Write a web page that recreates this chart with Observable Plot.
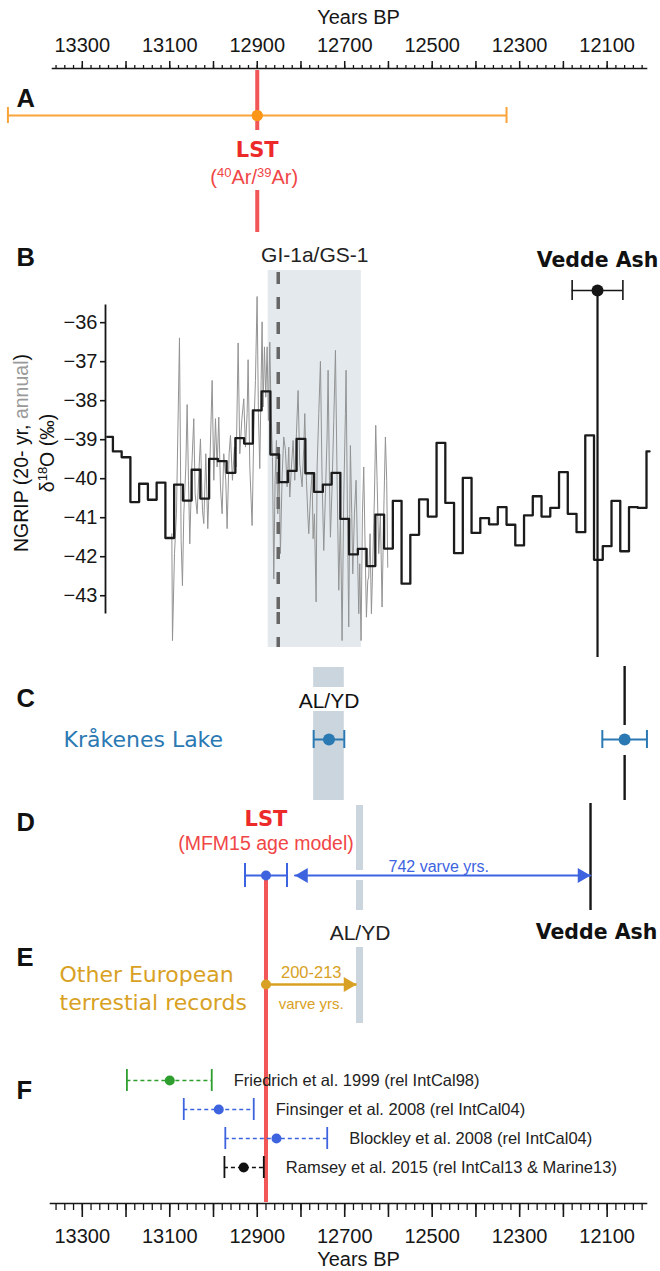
<!DOCTYPE html>
<html><head><meta charset="utf-8">
<script src="https://cdn.jsdelivr.net/npm/d3@7"></script>
<script src="https://cdn.jsdelivr.net/npm/@observablehq/plot@0.6"></script>
<style>
body{margin:0;background:#fff;}
#chart{width:660px;}
#chart svg{display:block;position:relative;overflow:visible;}
</style></head><body><div id="chart"></div>
<script>
// ---------------- data ----------------
const labelTicks = [13300, 13100, 12900, 12700, 12500, 12300, 12100];
const majorTicks = [13300, 13200, 13100, 13000, 12900, 12800, 12700, 12600, 12500, 12400, 12300, 12200, 12100];
const minorTicks = d3.range(12020, 13361, 20);
const axisTitle = "Years BP";

// A: LST 40Ar/39Ar age
const lstArAr = {age: 12900, err: 570};

// B: NGRIP 20-yr mean (step) – bin start years and values
const ngripBinStart = [13243,13230,13210,13190,13170,13150,13130,13110,13090,13070,13050,13030,13010,12990,12970,12950,12930,12910,12890,12870,12850,12830,12810,12790,12770,12750,12730,12710,12690,12670,12650,12630,12610,12590,12570,12550,12530,12510,12490,12470,12450,12430,12410,12390,12370,12350,12330,12310,12290,12270,12250,12230,12210,12190,12170,12150,12130,12110,12090,12070,12050,12030,12010];
const ngripBinValue = [-38.93,-39.30,-39.45,-40.60,-40.13,-40.54,-40.10,-41.52,-40.15,-40.56,-39.77,-40.51,-39.49,-39.55,-39.85,-38.96,-39.10,-38.25,-37.76,-39.38,-40.09,-39.80,-38.98,-39.86,-40.34,-40.15,-39.85,-41.03,-41.94,-41.80,-42.24,-40.92,-41.79,-40.57,-42.69,-41.44,-40.53,-40.97,-39.08,-40.62,-41.91,-39.98,-41.39,-41.01,-41.17,-40.73,-41.18,-41.71,-40.94,-40.45,-40.97,-40.75,-39.83,-40.90,-41.37,-38.89,-42.08,-41.73,-40.57,-41.86,-40.73,-40.75,-39.30];
const ngripEndYear = 12003;

// B: NGRIP annual (grey)
const ngripAnnualYear = [13095.3,13093.8,13089.2,13084.7,13077.8,13074.0,13071.0,13067.9,13063.3,13060.3,13057.2,13054.2,13049.6,13045.1,13042.0,13037.4,13032.9,13029.8,13025.2,13022.2,13017.6,13013.1,13008.5,13003.1,12999.3,12995.5,12991.7,12987.9,12984.1,12980.3,12976.5,12971.9,12968.9,12964.3,12961.2,12956.7,12952.1,12948.3,12943.7,12939.9,12935.3,12930.8,12926.9,12923.1,12920.9,12917.0,12911.7,12907.9,12904.1,12900.3,12897.3,12894.2,12891.1,12888.9,12886.6,12883.5,12880.5,12877.4,12874.4,12871.3,12868.3,12865.2,12862.2,12859.2,12856.1,12853.1,12850.0,12847.0,12843.2,12839.4,12835.5,12831.7,12827.9,12825.6,12821.8,12818.0,12814.2,12810.4,12806.6,12802.8,12797.4,12793.6,12791.3,12787.5,12784.5,12782.2,12778.4,12774.6,12772.3,12769.2,12765.4,12763.1,12759.3,12755.5,12751.7,12747.9,12744.1,12740.3,12738.0,12734.9,12732.7,12728.9,12725.0,12721.2,12717.4,12713.6,12709.8,12706.0,12702.2,12698.4,12696.9,12693.8,12690.8,12688.5,12687.0,12683.9,12681.6,12677.8,12674.0,12671.0,12667.9,12665.6,12662.6,12659.5,12656.5,12653.4,12650.4,12647.3,12645.1,12642.0,12639.0,12635.9,12632.1,12629.1,12626.0,12622.2,12618.4,12614.6,12610.8,12607.0,12604.0,12601.6];
const ngripAnnualValue = [-41.41,-44.15,-41.92,-40.90,-36.39,-41.58,-42.74,-40.90,-39.70,-38.10,-40.04,-41.67,-39.70,-38.46,-40.39,-40.90,-39.70,-38.98,-40.81,-41.15,-39.36,-41.28,-39.70,-37.48,-40.04,-38.46,-39.70,-38.42,-40.21,-40.90,-39.36,-40.04,-41.28,-39.36,-38.89,-40.04,-39.19,-39.70,-36.52,-39.36,-38.50,-37.95,-39.19,-38.33,-36.95,-39.70,-41.20,-38.76,-37.48,-35.33,-38.33,-39.74,-37.48,-35.98,-38.16,-36.62,-37.91,-36.62,-38.51,-36.50,-38.33,-39.45,-42.57,-40.04,-39.02,-40.90,-39.53,-41.92,-39.96,-38.93,-39.27,-40.21,-39.19,-40.47,-39.70,-39.02,-40.04,-38.85,-37.74,-39.62,-40.21,-39.19,-38.33,-40.04,-40.90,-41.41,-40.47,-39.87,-41.54,-40.90,-43.16,-39.70,-38.33,-36.99,-40.04,-41.84,-40.39,-38.93,-37.22,-40.04,-41.50,-40.21,-38.51,-36.71,-40.04,-42.86,-40.90,-44.15,-40.47,-38.33,-37.22,-40.90,-43.80,-40.90,-39.15,-40.90,-42.44,-40.90,-40.04,-41.75,-43.46,-42.18,-44.15,-40.90,-39.70,-41.75,-43.55,-42.61,-42.52,-41.41,-43.46,-42.18,-40.47,-38.63,-40.04,-41.92,-40.90,-43.29,-40.90,-38.93,-40.04,-42.27];
const d18OTicks = [-36, -37, -38, -39, -40, -41, -42, -43];
const d18ODomain = [-43.43, -35.56];
const giTransition = {start: 12875, end: 12662, label: "GI-1a/GS-1"};
const giDashedYear = 12852;
const veddeNGRIP = {age: 12122, err: 58};

// C: Kråkenes Lake
const alydKrakenes = {age: 12736, err: 35};
const veddeKrakenes = {age: 12060, err: 51};

// D/E: MFM15
const lstMFM = {age: 12880, err: 48};
const veddeMFM = 12138;
const alydMFM = {start: 12673, end: 12657};
const europe = {from: 12880, to: 12673, label: "200-213"};

// F: radiocarbon-based estimates
const fStudy = ["Friedrich et al. 1999 (rel IntCal98)", "Finsinger et al. 2008 (rel IntCal04)", "Blockley et al. 2008 (rel IntCal04)", "Ramsey et al. 2015 (rel IntCal13 & Marine13)"];
const fCalib = ["IntCal98", "IntCal04", "IntCal04", "IntCal13"];
const fAge = [13100, 12988, 12856, 12931];
const fOlder = [13198, 13068, 12973, 12975];
const fYounger = [13004, 12908, 12740, 12885];

// ---------------- layout / styles ----------------
const W = 660;
const X = {domain: [13487, 11978], range: [0, W]};
const FONT = "'Liberation Sans', Arial, Helvetica, sans-serif";
const WIDE = "'DejaVu Sans', Verdana, sans-serif";
const RED = "#f25656", RED_T = "#ec2a2a", ORANGE = "#f9a43a", ORANGE_D = "#fb9619";
const BLUE = "#3d63df", KBLUE = "#2b79b3", GOLD = "#d8a124", INK = "#161616";
const BAND = "#e3e9ed", BAR = "#cbd5dd";

const chart = document.getElementById("chart");
function strip(height, marks, options = {}) {
  const svg = Plot.plot({
    width: W, height,
    marginTop: 0, marginRight: 0, marginBottom: 0, marginLeft: 0,
    ...options,
    x: {...X, axis: null},
    marks
  });
  svg.style.fontFamily = FONT;
  chart.append(svg);
  return svg;
}
// a point scale placing the named row(s) between the given layout positions
function rows(domain, range) {
  return {type: "point", domain, range, padding: 0, axis: null};
}
function panelLetter(letter, dy) {
  return Plot.text([letter], {frameAnchor: "top-left", dx: 16, dy, fontSize: 25.5, fontWeight: "bold", fill: "#111"});
}
function errorBar(data, {x, lo, hi, y, color, r = 5, cap = 8, width = 2, dash}) {
  return [
    Plot.ruleY(data, {y, x1: lo, x2: hi, stroke: color, strokeWidth: width, strokeDasharray: dash}),
    Plot.ruleX(data, {x: lo, y1: y, y2: y, stroke: color, strokeWidth: width, insetTop: -cap, insetBottom: -cap}),
    Plot.ruleX(data, {x: hi, y1: y, y2: y, stroke: color, strokeWidth: width, insetTop: -cap, insetBottom: -cap}),
    Plot.dot(data, {x, y, r, fill: color, stroke: null})
  ];
}
const older = d => d.age + d.err, younger = d => d.age - d.err;

// ---- top axis ----
strip(70, [
  Plot.frame({anchor: "top", stroke: INK, strokeWidth: 1.6}),
  Plot.axisX({anchor: "top", ticks: minorTicks, tickSize: 4, tickFormat: () => "", label: null, strokeWidth: 1.3, color: INK}),
  Plot.axisX({anchor: "top", ticks: majorTicks, tickSize: 8, tickFormat: () => "", label: null, strokeWidth: 1.5, color: INK}),
  Plot.axisX({anchor: "top", ticks: labelTicks, tickSize: 0, tickPadding: 17, tickFormat: d => String(d), label: null, fontSize: 20, color: INK}),
  Plot.text([axisTitle], {frameAnchor: "top", lineAnchor: "middle", dx: 9, dy: -51, fontSize: 20, fill: INK})
], {marginTop: 68, marginLeft: 52, marginRight: 14});

// ---- A ----
strip(60, [
  Plot.ruleX([lstArAr], {x: "age", stroke: RED, strokeWidth: 4}),
  ...errorBar([lstArAr], {x: "age", lo: older, hi: younger, y: () => "ArAr", color: ORANGE, r: 5.5, cap: 8, width: 2}),
  Plot.dot([lstArAr], {x: "age", y: () => "ArAr", r: 5.5, fill: ORANGE_D}),
  panelLetter("A", 18)
], {y: rows(["ArAr", "end"], [45, 60])});

strip(60, [
  Plot.text([lstArAr], {x: "age", text: () => "LST", frameAnchor: "top", lineAnchor: "middle", dy: 20, fill: RED_T, fontWeight: "bold", fontSize: 21, fontFamily: WIDE}),
  Plot.text([lstArAr], {x: "age", text: () => "(40Ar/39Ar)", frameAnchor: "top", lineAnchor: "middle", dx: -3, dy: 47, fill: "#f04646", fontSize: 20})
]);
strip(42, [Plot.ruleX([lstArAr], {x: "age", stroke: RED, strokeWidth: 4})]);

// ---- B header ----
strip(73, [
  Plot.rectX([giTransition], {x1: "start", x2: "end", fill: BAND, insetTop: 38}),
  Plot.ruleX([giDashedYear], {stroke: "#666", strokeWidth: 3.5, strokeDasharray: "12,13", insetTop: 40}),
  panelLetter("B", 15),
  Plot.text([giTransition], {x: d => (d.start + d.end) / 2, text: "label", frameAnchor: "top", lineAnchor: "middle", dy: 23, fontSize: 21, fill: "#222"}),
  Plot.text([veddeNGRIP], {x: "age", text: () => "Vedde Ash", frameAnchor: "top", lineAnchor: "middle", dy: 27.5, fontSize: 20.5, fontWeight: "bold", fontFamily: WIDE, fill: "#111"}),
  Plot.ruleX([veddeNGRIP], {x: "age", stroke: INK, strokeWidth: 2.2, insetTop: 58}),
  ...errorBar([veddeNGRIP], {x: "age", lo: older, hi: younger, y: () => "V", color: INK, r: 6, cap: 10, width: 1.6})
], {y: rows(["V", "end"], [58, 73])});

// ---- B main ----
const stepPts = ngripBinStart.map((yr, i) => ({year: yr, v: ngripBinValue[i]}))
  .concat([{year: ngripEndYear, v: ngripBinValue[ngripBinValue.length - 1]}]);
const annual = ngripAnnualYear.map((yr, i) => ({year: yr, v: ngripAnnualValue[i]}));
const sB = strip(307, [
  Plot.rectX([giTransition], {x1: "start", x2: "end", fill: BAND}),
  Plot.line(annual, {x: "year", y: "v", stroke: "#939393", strokeWidth: 1}),
  Plot.ruleX([giDashedYear], {stroke: "#666", strokeWidth: 3.5, strokeDasharray: "12,13", strokeDashoffset: 8}),
  Plot.line(stepPts, {x: "year", y: "v", curve: "step-after", stroke: "#1b1b1b", strokeWidth: 2.3}),
  Plot.ruleX([veddeNGRIP], {x: "age", stroke: INK, strokeWidth: 2.2}),
  Plot.frame({anchor: "left", stroke: INK, strokeWidth: 1.8}),
  Plot.axisY({anchor: "left", ticks: d18OTicks, tickSize: 5, tickPadding: 3, tickFormat: d => "\u2212" + Math.abs(d), label: null, fontSize: 20, color: INK, strokeWidth: 1.6}),
  Plot.text(["NGRIP (20- yr, annual)"], {frameAnchor: "left", rotate: -90, textAnchor: "middle", lineAnchor: "middle", dx: -84, dy: -6, fontSize: 19.5, fill: "#111"}),
  Plot.text(["\u03b418O (\u2030)"], {frameAnchor: "left", rotate: -90, textAnchor: "middle", lineAnchor: "middle", dx: -58, dy: -6, fontSize: 19.5, fill: "#111"})
], {marginLeft: 105, y: {domain: d18ODomain}});
sB.style.zIndex = 2;

strip(35, [
  Plot.rectX([giTransition], {x1: "start", x2: "end", fill: BAND}),
  Plot.ruleX([giDashedYear], {stroke: "#666", strokeWidth: 3.5, strokeDasharray: "12,13"}),
  Plot.ruleX([veddeNGRIP], {x: "age", stroke: INK, strokeWidth: 2.2})
]);
strip(10, [Plot.ruleX([veddeNGRIP], {x: "age", stroke: INK, strokeWidth: 2.2})]);

// ---- C ----
strip(146, [
  Plot.rectX([alydKrakenes], {x1: older, x2: younger, fill: BAR, insetTop: 10, insetBottom: 116}),
  Plot.rectX([alydKrakenes], {x1: older, x2: younger, fill: BAR, insetTop: 54, insetBottom: 3}),
  Plot.ruleX([veddeKrakenes], {x: "age", stroke: INK, strokeWidth: 2.4, insetTop: 9, insetBottom: 78}),
  Plot.ruleX([veddeKrakenes], {x: "age", stroke: INK, strokeWidth: 2.4, insetTop: 98, insetBottom: 3}),
  panelLetter("C", 31),
  Plot.text([alydKrakenes], {x: "age", text: () => "AL/YD", frameAnchor: "top", lineAnchor: "middle", dy: 44, fontSize: 21, fill: "#111"}),
  Plot.text(["Kr\u00e5kenes Lake"], {y: () => "K", frameAnchor: "left", textAnchor: "start", dx: 63, fontSize: 22, fontFamily: WIDE, fill: KBLUE}),
  ...errorBar([alydKrakenes], {x: "age", lo: older, hi: younger, y: () => "K", color: KBLUE, r: 6, cap: 9, width: 2}),
  ...errorBar([veddeKrakenes], {x: "age", lo: older, hi: younger, y: () => "K", color: KBLUE, r: 6, cap: 9, width: 2})
], {y: rows(["K", "end"], [82, 146])});

// ---- D ----
const varveSpan = lstMFM.age - veddeMFM;
strip(107, [
  Plot.rectX([alydMFM], {x1: "start", x2: "end", fill: BAR, insetTop: 2, insetBottom: 40}),
  Plot.rectX([alydMFM], {x1: "start", x2: "end", fill: BAR, insetTop: 77}),
  Plot.ruleX([veddeMFM], {stroke: INK, strokeWidth: 2.4}),
  Plot.ruleX([lstMFM], {x: "age", stroke: RED, strokeWidth: 4, insetTop: 72}),
  panelLetter("D", 9),
  Plot.text([lstMFM], {x: "age", text: () => "LST", frameAnchor: "top", lineAnchor: "middle", dy: 16, fill: RED_T, fontWeight: "bold", fontSize: 21, fontFamily: WIDE}),
  Plot.text([lstMFM], {x: "age", text: () => "(MFM15 age model)", frameAnchor: "top", lineAnchor: "middle", dy: 40, fill: "#f04646", fontSize: 19.5}),
  Plot.arrow([lstMFM], {x1: younger, x2: () => veddeMFM, y1: () => "D", y2: () => "D", headLength: 0, insetStart: 8, stroke: BLUE, strokeWidth: 2}),
  Plot.dot([lstMFM], {x: younger, y: () => "D", symbol: "triangle", rotate: -90, r: 5.5, dx: 16.5, fill: BLUE}),
  Plot.dot([veddeMFM], {x: d => d, y: () => "D", symbol: "triangle", rotate: 90, r: 5.5, dx: -8.5, fill: BLUE}),
  Plot.text([lstMFM], {x: d => (younger(d) + veddeMFM) / 2, y: () => "D", text: () => `${varveSpan} varve yrs.`, dy: -9, fontSize: 16, fill: BLUE}),
  ...errorBar([lstMFM], {x: "age", lo: older, hi: younger, y: () => "D", color: BLUE, r: 5, cap: 12, width: 2})
], {y: rows(["D", "end"], [72, 107])});

// ---- E ----
strip(130, [
  Plot.rectX([alydMFM], {x1: "start", x2: "end", fill: BAR, insetTop: 37, insetBottom: 17}),
  Plot.ruleX([lstMFM], {x: "age", stroke: RED, strokeWidth: 4}),
  Plot.text([veddeMFM], {x: d => d, text: () => "Vedde Ash", frameAnchor: "top", lineAnchor: "middle", dx: 6, dy: 21.7, fontSize: 20.5, fontWeight: "bold", fontFamily: WIDE, fill: "#111"}),
  Plot.text([alydMFM], {x: d => (d.start + d.end) / 2, text: () => "AL/YD", frameAnchor: "top", lineAnchor: "middle", dy: 22.7, fontSize: 21, fill: "#222"}),
  panelLetter("E", 37),
  Plot.text(["Other European\nterrestial records"], {frameAnchor: "top-left", textAnchor: "start", lineAnchor: "top", dx: 59, dy: 52, fontSize: 22, fontFamily: WIDE, lineHeight: 1.27, fill: GOLD}),
  Plot.link([europe], {x1: "from", x2: "to", y1: () => "E", y2: () => "E", stroke: GOLD, strokeWidth: 2.5}),
  Plot.dot([europe], {x: "to", y: () => "E", symbol: "triangle", rotate: 90, r: 5.5, dx: -8.5, fill: GOLD}),
  Plot.dot([europe], {x: "from", y: () => "E", r: 5, fill: GOLD}),
  Plot.text([europe], {x: d => (d.from + d.to) / 2, y: () => "E", text: "label", dy: -11.6, fontSize: 16.5, fill: GOLD}),
  Plot.text([europe], {x: d => (d.from + d.to) / 2, y: () => "E", text: () => "varve yrs.", dy: 19.7, fontSize: 15, fill: GOLD})
], {y: rows(["E", "end"], [73.3, 130])});

// ---- F ----
const fData = fStudy.map((s, i) => ({study: s, calib: fCalib[i], age: fAge[i], lo: fOlder[i], hi: fYounger[i]}));
strip(162, [
  Plot.ruleX([lstMFM], {x: "age", stroke: RED, strokeWidth: 4}),
  panelLetter("F", 40),
  Plot.ruleY(fData, {y: "study", x1: "lo", x2: "hi", stroke: "calib", strokeWidth: 1.6, strokeDasharray: "4,3"}),
  Plot.ruleX(fData, {x: "lo", y1: "study", y2: "study", stroke: "calib", strokeWidth: 1.8, insetTop: -11, insetBottom: -11}),
  Plot.ruleX(fData, {x: "hi", y1: "study", y2: "study", stroke: "calib", strokeWidth: 1.8, insetTop: -11, insetBottom: -11}),
  Plot.dot(fData, {x: "age", y: "study", r: 5, fill: "calib"}),
  Plot.text(fData, {x: "hi", y: "study", text: "study", textAnchor: "start", dx: 22, fontSize: 16.5, fill: "#222"})
], {
  y: rows(fStudy, [39.3, 128.3]),
  color: {domain: ["IntCal98", "IntCal04", "IntCal13"], range: ["#2e9e2e", BLUE, "#111"]}
});

// ---- bottom axis ----
strip(69, [
  Plot.frame({anchor: "bottom", stroke: INK, strokeWidth: 1.6}),
  Plot.axisX({anchor: "bottom", ticks: minorTicks, tickSize: 7, tickFormat: () => "", label: null, strokeWidth: 1.3, color: INK}),
  Plot.axisX({anchor: "bottom", ticks: majorTicks, tickSize: 14, tickFormat: () => "", label: null, strokeWidth: 1.6, color: INK}),
  Plot.axisX({anchor: "bottom", ticks: labelTicks, tickSize: 0, tickPadding: 25, tickFormat: d => String(d), label: null, fontSize: 20, color: INK}),
  Plot.text([axisTitle], {frameAnchor: "bottom", lineAnchor: "middle", dx: 10, dy: 56, fontSize: 20, fill: INK})
], {marginTop: 1, marginBottom: 68, marginLeft: 50, marginRight: 14});

// ---- rich text (superscripts, grey word) ----
const rich = {
  "(40Ar/39Ar)": '(<tspan dy="-7" font-size="13">40</tspan><tspan dy="7">Ar/</tspan><tspan dy="-7" font-size="13">39</tspan><tspan dy="7">Ar)</tspan>',
  "NGRIP (20- yr, annual)": 'NGRIP (20- yr, <tspan fill="#9a9a9a">annual</tspan>)',
  "\u03b418O (\u2030)": '\u03b4<tspan dy="-7" font-size="13">18</tspan><tspan dy="7">O (\u2030)</tspan>'
};
chart.querySelectorAll("text").forEach(t => {
  const h = rich[t.textContent];
  if (h) t.innerHTML = h;
});
</script></body></html>
